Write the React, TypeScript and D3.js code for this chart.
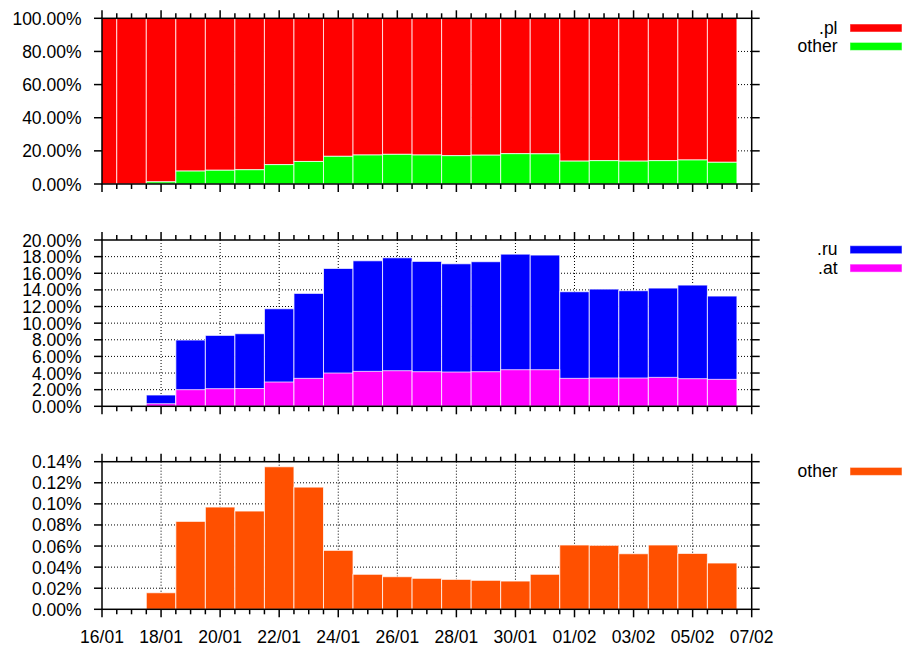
import React from 'react'
import * as d3 from 'd3'

const dayKeys = [
  '2014-01-16', '2014-01-17', '2014-01-18', '2014-01-19', '2014-01-20', '2014-01-21',
  '2014-01-22', '2014-01-23', '2014-01-24', '2014-01-25', '2014-01-26', '2014-01-27',
  '2014-01-28', '2014-01-29', '2014-01-30', '2014-01-31', '2014-02-01', '2014-02-02',
  '2014-02-03', '2014-02-04', '2014-02-05', '2014-02-06',
]

// top panel (share of all, %)
const otherShare = [0, 0, 1.3, 7.8, 8.3, 8.6, 11.7, 13.6, 16.7, 17.5, 17.9, 17.5, 17.1, 17.4, 18.3, 18.2, 13.8, 14.1, 13.8, 14.1, 14.5, 13.1]
const plShare = [100, 100, 98.7, 92.2, 91.7, 91.4, 88.3, 86.4, 83.3, 82.5, 82.1, 82.5, 82.9, 82.6, 81.7, 81.8, 86.2, 85.9, 86.2, 85.9, 85.5, 86.9]

// middle panel (%)
const atShare = [0, 0, 0.31, 2.0, 2.12, 2.14, 2.92, 3.36, 4.0, 4.2, 4.28, 4.16, 4.12, 4.16, 4.4, 4.4, 3.36, 3.4, 3.4, 3.48, 3.32, 3.24]
const ruShare = [0, 0, 1.05, 5.97, 6.41, 6.59, 8.81, 10.22, 12.58, 13.3, 13.58, 13.27, 13.02, 13.23, 13.9, 13.79, 10.42, 10.7, 10.5, 10.74, 11.26, 10.02]

// bottom panel (%)
const restShare = [0, 0, 0.0157, 0.0834, 0.097, 0.0932, 0.1352, 0.1159, 0.0559, 0.0332, 0.0309, 0.0294, 0.0284, 0.0275, 0.0268, 0.0332, 0.061, 0.0607, 0.0527, 0.061, 0.053, 0.0439]

const topTicks = [0, 20, 40, 60, 80, 100]
const midTicks = [0, 2, 4, 6, 8, 10, 12, 14, 16, 18, 20]
const botTicks = [0, 0.02, 0.04, 0.06, 0.08, 0.1, 0.12, 0.14]

const W = 904
const H = 649
const left = 102
const right = 751.7
const font = '"Liberation Sans", Arial, sans-serif'
const fontSize = 17.5

const days = dayKeys.map(d => new Date(d + 'T00:00:00Z'))
const start = new Date('2014-01-16T00:00:00Z')
const end = new Date('2014-02-07T00:00:00Z')
const x = d3.scaleUtc().domain([start, end]).range([left, right])
const majorTicks = d3.utcDay.range(start, d3.utcHour.offset(end, 1), 2)
const majorSet = new Set(majorTicks.map(t => +t))
const minorTicks = d3.utcHour.range(start, d3.utcHour.offset(end, 1), 12).filter(t => !majorSet.has(+t))
const halfDay = 12 * 3600 * 1000
const fmtDay = d3.utcFormat('%d/%m')
const fmtPct = v => d3.format('.2f')(v) + '%'

function Panel({ id, top, bottom, max, ticks, layers, legend, showX }) {
  const y = d3.scaleLinear().domain([0, max]).range([bottom, top])
  return (
    <g>
      <defs>
        <clipPath id={id}>
          <rect x={left} y={top} width={right - left} height={bottom - top} />
        </clipPath>
      </defs>
      {/* grid */}
      {majorTicks.filter(t => x(t) > left + 1 && x(t) < right - 1).map(t => (
        <line key={'gx' + +t} x1={x(t)} x2={x(t)} y1={top} y2={bottom}
          stroke="#000" strokeWidth={1} strokeDasharray="1,2" />
      ))}
      {ticks.slice(1, -1).map(v => (
        <line key={'gy' + v} x1={left} x2={right} y1={y(v)} y2={y(v)}
          stroke="#000" strokeWidth={1} strokeDasharray="1,2" />
      ))}
      {/* bars */}
      <g clipPath={`url(#${id})`}>
        {layers.map(layer => layer.values.map((v, i) => {
          const x0 = x(new Date(+days[i] - halfDay))
          const x1 = x(new Date(+days[i] + halfDay))
          const y0 = y(layer.base ? layer.base[i] : 0)
          const y1 = y((layer.base ? layer.base[i] : 0) + v)
          return (
            <rect key={layer.name + i} x={x0} y={y1} width={x1 - x0} height={y0 - y1}
              fill={layer.color} stroke="#fff" strokeOpacity={0.75} strokeWidth={1} />
          )
        }))}
      </g>
      {/* border */}
      <rect x={left} y={top} width={right - left} height={bottom - top}
        fill="none" stroke="#000" strokeWidth={1.5} />
      {majorTicks.map(t => (
        <g key={'mt' + +t}>
          <line x1={x(t)} x2={x(t)} y1={bottom} y2={bottom + 8} stroke="#000" strokeWidth={1.5} />
          <line x1={x(t)} x2={x(t)} y1={top} y2={top - 8} stroke="#000" strokeWidth={1.5} />
        </g>
      ))}
      {minorTicks.map(t => (
        <g key={'nt' + +t}>
          <line x1={x(t)} x2={x(t)} y1={bottom} y2={bottom + 5} stroke="#000" strokeWidth={1.5} />
          <line x1={x(t)} x2={x(t)} y1={top} y2={top - 5} stroke="#000" strokeWidth={1.5} />
        </g>
      ))}
      {ticks.map(v => (
        <g key={'yt' + v}>
          <line x1={left - 8} x2={left} y1={y(v)} y2={y(v)} stroke="#000" strokeWidth={1.5} />
          <line x1={right} x2={right + 8} y1={y(v)} y2={y(v)} stroke="#000" strokeWidth={1.5} />
          <text x={81.5} y={y(v) + 6.5} textAnchor="end" fontFamily={font} fontSize={fontSize} fill="#000">
            {fmtPct(v)}
          </text>
        </g>
      ))}
      {showX && majorTicks.map(t => (
        <text key={'xl' + +t} x={x(t)} y={642.5} textAnchor="middle" fontFamily={font} fontSize={fontSize} fill="#000">
          {fmtDay(t)}
        </text>
      ))}
      {/* legend */}
      {legend.map((l, i) => (
        <g key={l.name}>
          <text x={837.5} y={top + 9.7 + i * 18.4 + 5.5} textAnchor="end" fontFamily={font} fontSize={fontSize} fill="#000">
            {l.name}
          </text>
          <rect x={850} y={top + 9.7 + i * 18.4 - 4} width={52} height={8} fill={l.color}
            stroke="#fff" strokeOpacity={0.5} strokeWidth={1} />
        </g>
      ))}
    </g>
  )
}

export default function App() {
  const stackedRu = atShare.map((a, i) => a + ruShare[i])
  return (
    <svg width={W} height={H} style={{ position: 'absolute', left: 0, top: 0, background: '#fff' }}>
      <Panel id="c1" top={18.3} bottom={184} max={100} ticks={topTicks}
        layers={[
          { name: 'pl', values: plShare, base: otherShare, color: '#ff0000' },
          { name: 'other', values: otherShare, color: '#00ff00' },
        ]}
        legend={[{ name: '.pl', color: '#ff0000' }, { name: 'other', color: '#00ff00' }]}
      />
      <Panel id="c2" top={240} bottom={406.3} max={20} ticks={midTicks}
        layers={[
          { name: 'ru', values: stackedRu, color: '#0000ff' },
          { name: 'at', values: atShare, color: '#ff00ff' },
        ]}
        legend={[{ name: '.ru', color: '#0000ff' }, { name: '.at', color: '#ff00ff' }]}
      />
      <Panel id="c3" top={461.7} bottom={609.3} max={0.14} ticks={botTicks}
        layers={[{ name: 'rest', values: restShare, color: '#ff5000' }]}
        legend={[{ name: 'other', color: '#ff5000' }]}
        showX
      />
    </svg>
  )
}
